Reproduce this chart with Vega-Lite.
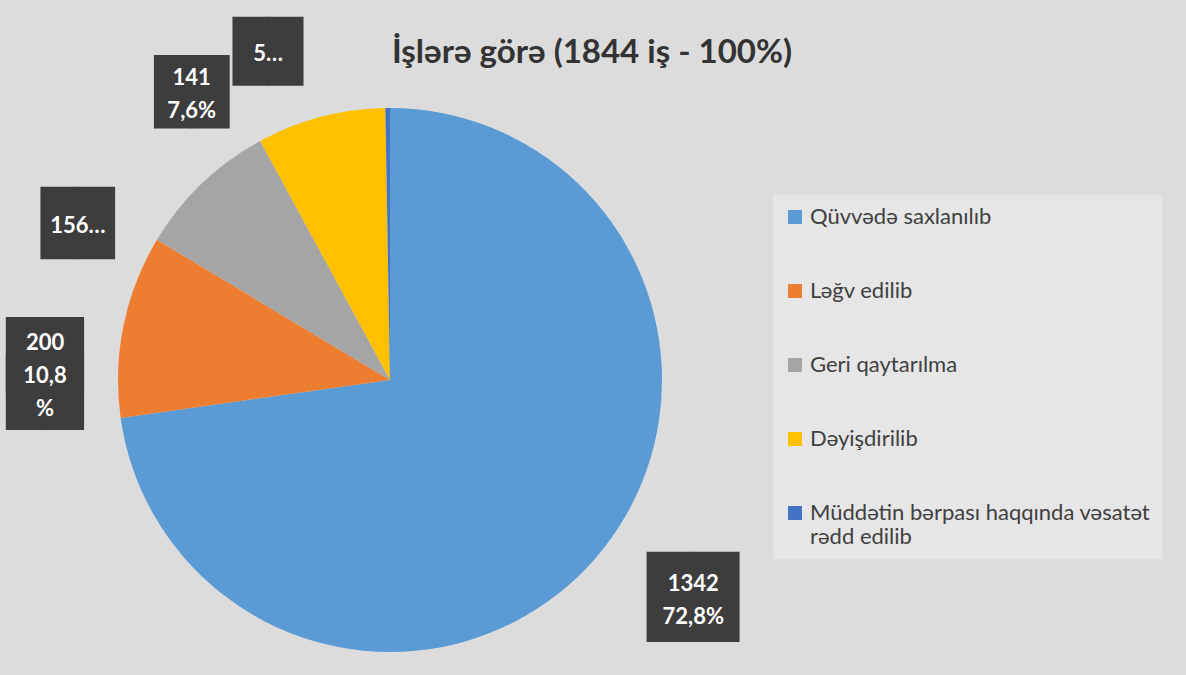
{
  "$schema": "https://vega.github.io/schema/vega-lite/v6.json",
  "width": 760,
  "height": 544,
  "autosize": {"type": "none"},
  "padding": {"left": 10, "top": 108, "right": 416, "bottom": 23},
  "background": "#dcdcdc",
  "title": {
    "text": "İşlərə görə (1844 iş - 100%)",
    "frame": "group",
    "anchor": "middle",
    "dx": 202,
    "offset": 0,
    "dy": 127,
    "baseline": "alphabetic",
    "font": "Lato",
    "fontSize": 33,
    "fontWeight": "bold",
    "color": "#333333"
  },
  "data": {
    "values": [
      {"category": "Qüvvədə saxlanılıb", "count": 1342, "order": 1, "label": "1342\n72,8%"},
      {"category": "Ləğv edilib", "count": 200, "order": 2, "label": "200\n10,8\n%"},
      {"category": "Geri qaytarılma", "count": 156, "order": 3, "label": "156…"},
      {"category": "Dəyişdirilib", "count": 141, "order": 4, "label": "141\n7,6%"},
      {"category": "Müddətin bərpası haqqında vəsatət rədd edilib", "count": 5, "order": 5, "label": "5…"}
    ]
  },
  "encoding": {
    "theta": {"field": "count", "type": "quantitative", "stack": true},
    "order": {"field": "order", "type": "quantitative"}
  },
  "layer": [
    {
      "mark": {"type": "arc", "strokeWidth": 0},
      "encoding": {
        "color": {
          "field": "category",
          "type": "nominal",
          "sort": null,
          "scale": {
            "domain": ["Qüvvədə saxlanılıb", "Ləğv edilib", "Geri qaytarılma", "Dəyişdirilib", "Müddətin bərpası haqqında vəsatət rədd edilib"],
            "range": ["#5B9BD5", "#ED7D31", "#A5A5A5", "#FFC000", "#4472C4"]
          },
          "legend": {
            "orient": "none",
            "legendX": 763,
            "legendY": 87,
            "title": null,
            "symbolType": "square",
            "symbolSize": 196,
            "symbolStrokeWidth": 0,
            "labelFont": "Lato",
            "labelFontSize": 22,
            "labelColor": "#404040",
            "labelLimit": 420,
            "labelOffset": 4,
            "rowPadding": 52,
            "padding": 11,
            "fillColor": "#e6e6e6",
            "labelExpr": "datum.label == 'Müddətin bərpası haqqında vəsatət rədd edilib' ? ['Müddətin bərpası haqqında vəsatət', 'rədd edilib'] : datum.label"
          }
        }
      }
    },
    {
      "mark": {"type": "text", "radius": 375, "thetaOffset": -0.087, "font": "DejaVu Sans Mono", "fontSize": 76, "color": "#3d3d3d", "baseline": "middle", "align": "center"},
      "encoding": {
        "text": {"condition": {"test": "datum.order == 1", "value": "██"}, "value": ""}
      }
    },
    {
      "mark": {"type": "text", "radius": 375, "thetaOffset": -0.087, "dy": -16.5, "font": "Lato", "fontSize": 22, "fontWeight": "bold", "color": "#ffffff", "lineBreak": "\n", "lineHeight": 33, "baseline": "middle", "align": "center"},
      "encoding": {
        "text": {"condition": {"test": "datum.order == 1", "field": "label"}, "value": ""}
      }
    },
    {
      "mark": {"type": "text", "radius": 345, "thetaOffset": -0.19, "dy": -18, "font": "DejaVu Sans Mono", "fontSize": 64, "color": "#3d3d3d", "lineBreak": "\n", "lineHeight": 36.5, "baseline": "middle", "align": "center"},
      "encoding": {
        "text": {"condition": {"test": "datum.order == 2", "value": "██\n██"}, "value": ""}
      }
    },
    {
      "mark": {"type": "text", "radius": 345, "thetaOffset": -0.19, "dy": -33, "font": "Lato", "fontSize": 22, "fontWeight": "bold", "color": "#ffffff", "lineBreak": "\n", "lineHeight": 33, "baseline": "middle", "align": "center"},
      "encoding": {
        "text": {"condition": {"test": "datum.order == 2", "field": "label"}, "value": ""}
      }
    },
    {
      "mark": {"type": "text", "radius": 348, "thetaOffset": -0.349, "font": "DejaVu Sans Mono", "color": "#3d3d3d", "baseline": "middle", "align": "center"},
      "encoding": {
        "text": {"condition": {"test": "datum.order >= 3", "value": "██"}, "value": ""},
        "size": {"condition": [{"test": "datum.order == 3", "value": 61}, {"test": "datum.order == 4", "value": 62}], "value": 58}
      }
    },
    {
      "mark": {"type": "text", "radius": 348, "thetaOffset": -0.349, "font": "Lato", "fontSize": 22, "fontWeight": "bold", "color": "#ffffff", "baseline": "middle", "align": "center"},
      "encoding": {
        "text": {"condition": {"test": "datum.order == 3 || datum.order == 5", "field": "label"}, "value": ""}
      }
    },
    {
      "mark": {"type": "text", "radius": 348, "thetaOffset": -0.349, "dy": -16.5, "font": "Lato", "fontSize": 22, "fontWeight": "bold", "color": "#ffffff", "lineBreak": "\n", "lineHeight": 33, "baseline": "middle", "align": "center"},
      "encoding": {
        "text": {"condition": {"test": "datum.order == 4", "field": "label"}, "value": ""}
      }
    }
  ],
  "config": {"view": {"stroke": null}}
}
